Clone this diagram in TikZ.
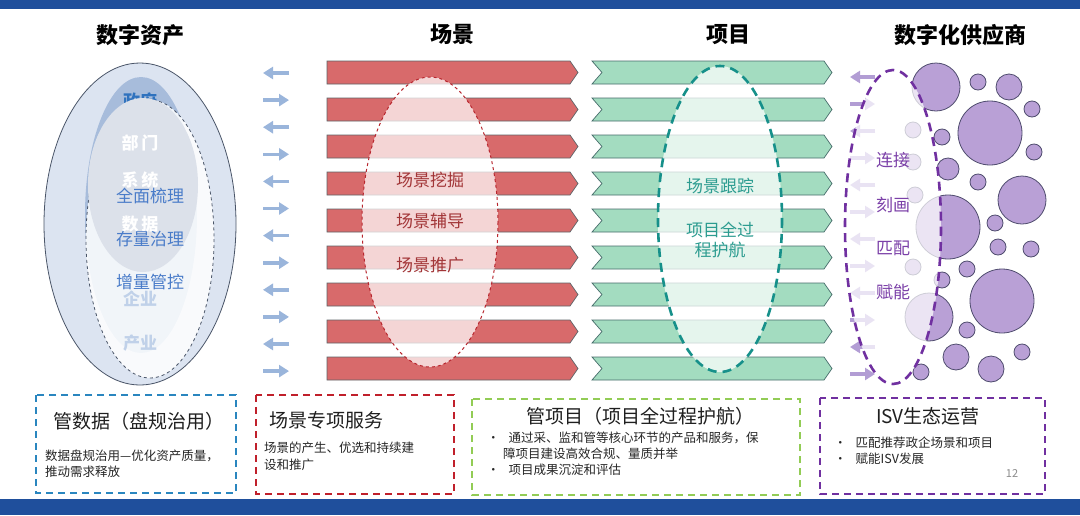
\documentclass[tikz,border=0pt]{standalone}
\usepackage{fontspec}
\setmainfont{Noto Sans CJK SC}
\usetikzlibrary{arrows.meta}

\definecolor{bandblue}{HTML}{1F4F9C}
\definecolor{ringfill}{HTML}{DCE4F1}
\definecolor{ringdark}{HTML}{A7BCDB}
\definecolor{ringgrey}{HTML}{DCE1EA}
\definecolor{ringline}{HTML}{4A5568}
\definecolor{govblue}{HTML}{2F72BE}
\definecolor{stepblue}{HTML}{4A7CC9}
\definecolor{paleblue}{HTML}{C0D1E9}
\definecolor{arrowblue}{HTML}{9AB5DB}
\definecolor{barred}{HTML}{D86A6B}
\definecolor{bargreen}{HTML}{A3DCC0}
\definecolor{bargrey}{HTML}{5E6468}
\definecolor{greenline}{HTML}{476D6B}
\definecolor{sceneline}{HTML}{B8262E}
\definecolor{scenetext}{HTML}{A23537}
\definecolor{projline}{HTML}{16908A}
\definecolor{projtext}{HTML}{2C9C90}
\definecolor{isvline}{HTML}{7030A0}
\definecolor{isvtext}{HTML}{7B40A8}
\definecolor{bubble}{HTML}{B9A0D6}
\definecolor{bubbleline}{HTML}{4F4C6E}
\definecolor{arrowlilac}{HTML}{B29DD4}
\definecolor{boxblue}{HTML}{2A86BF}
\definecolor{boxred}{HTML}{C0202B}
\definecolor{boxgreen}{HTML}{92CC55}
\definecolor{boxpurple}{HTML}{7030A0}

\tikzset{
  headtext/.style={font=\fontsize{22}{24}\selectfont\bfseries, text=black},
  ringtext/.style={font=\fontsize{17}{19}\selectfont\bfseries},
  steptext/.style={font=\fontsize{17}{19}\selectfont, text=stepblue},
  redbar/.style={fill=barred, draw=bargrey, line width=0.7pt},
  greenbar/.style={fill=bargreen, draw=greenline, line width=0.7pt},
  leftarrow/.style={draw=arrowblue, line width=3.6pt, -{Triangle[length=10pt,width=12pt]}},
  lilacarrow/.style={draw=arrowlilac, line width=3.6pt, -{Triangle[length=10pt,width=12pt]}},
  bubbledot/.style={fill=bubble, draw=bubbleline, line width=0.8pt},
  veil/.style={fill=white, fill opacity=0.72},
  ovaltext/.style={font=\fontsize{17}{19}\selectfont},
  boxtitle/.style={font=\fontsize{19}{21}\selectfont, text=black!88},
  boxtext/.style={font=\fontsize{12.5}{16}\selectfont, text=black!85, anchor=west, inner sep=0pt},
  dashbox/.style={line width=2.2pt, dash pattern=on 7pt off 5pt},
}

\begin{document}
\begin{tikzpicture}[x=1pt, y=-1pt]
  \def\barh{23}     % bar height
  \def\barp{37}     % bar pitch
  \def\bartop{61}   % first bar
  \useasboundingbox (0,0) rectangle (1080,515);
  \fill[white] (0,0) rectangle (1080,515);
  \fill[bandblue] (0,0) rectangle (1080,9);      % top band
  \fill[bandblue] (0,499) rectangle (1080,515);  % bottom band
  %
  % column heads
  \node[headtext] (hAsset) at (140,35) {数字资产};
  \node[headtext] (hScene) at (452,34) {场景};
  \node[headtext] (hProj)  at (728,35) {项目};
  \node[headtext] (hIsv)   at (960,35) {数字化供应商};
  %
  % data assets rings
  \draw[fill=ringfill, draw=ringline, line width=0.8pt] (140,224) ellipse [x radius=96, y radius=161];
  \fill[ringdark] (141,215) ellipse [x radius=56, y radius=138];
  \node[ringtext, text=govblue] (rGov) at (140,101) {政府};
  \draw[fill=white, fill opacity=0.85, draw=ringline, dashed, line width=0.8pt] (150,239) ellipse [x radius=64, y radius=139];
  \fill[ringgrey] (143,185) ellipse [x radius=55, y radius=87];
  \node[ringtext, text=white] (rDept) at (140,143) {部\,门};
  \node[ringtext, text=white] (rSys)  at (140,180) {系\,统};
  \node[ringtext, text=white] (rData) at (140,224) {数\,据};
  \node[ringtext, text=paleblue] (rEnt) at (140,299) {企业};
  \node[ringtext, text=paleblue] (rInd) at (140,343) {产业};
  \node[steptext] (sComb)  at (150,196) {全面梳理};
  \node[steptext] (sStock) at (150,239) {存量治理};
  \node[steptext] (sNew)   at (150,282) {增量管控};
  %
  % exchange arrows
  \foreach \i in {0,2,...,10}
    \draw[leftarrow] (289,73+27.1*\i) -- (263,73+27.1*\i);
  \foreach \i in {1,3,...,11}
    \draw[leftarrow] (263,73+27.1*\i) -- (289,73+27.1*\i);
  %
  % scene bars and project chevrons
  \foreach \i in {0,...,8} {
    \pgfmathsetmacro\yt{\bartop+\barp*\i}
    \draw[redbar] (327,\yt) -- (570,\yt) -- (578,\yt+\barh/2) -- (570,\yt+\barh) -- (327,\yt+\barh) -- cycle;
    \draw[greenbar] (592,\yt) -- (824,\yt) -- (832,\yt+\barh/2) -- (824,\yt+\barh) -- (592,\yt+\barh) -- (602,\yt+\barh/2) -- cycle;
  }
  %
  % supplier bubbles
  \foreach \cx/\cy/\r in {936/87/24, 978/82/8, 1009/87/13, 1032/109/8, 990/133/32,
      913/130/8, 942/137/8, 1034/152/8, 948/169/11, 913/162/8, 978/182/8,
      1022/200/24, 915/195/8, 948/227/32, 995/223/8, 998/247/8, 1031/249/8,
      913/267/8, 967/269/8, 942/280/8, 1002/301/32, 929/317/24, 967/330/8,
      956/357/13, 1022/352/8, 991/369/13, 921/372/8}
    \draw[bubbledot] (\cx,\cy) circle [radius=\r];
  \foreach \i in {0,2,...,10}
    \draw[lilacarrow] (875,77+27*\i) -- (850,77+27*\i);
  \foreach \i in {1,3,...,11}
    \draw[lilacarrow] (850,77+27*\i) -- (875,77+27*\i);
  %
  % dashed ovals
  \draw[veil, draw=sceneline, dashed, line width=1pt] (430,222) ellipse [x radius=68, y radius=145];
  \draw[veil, draw=projline, dash pattern=on 9pt off 6pt, line width=2.6pt] (720,219) ellipse [x radius=62, y radius=153];
  \draw[veil, draw=isvline, dash pattern=on 9pt off 6pt, line width=2.6pt] (893,227) ellipse [x radius=48, y radius=157];
  %
  \node[ovaltext, text=scenetext] (oDig)  at (430,180) {场景挖掘};
  \node[ovaltext, text=scenetext] (oGuid) at (430,221) {场景辅导};
  \node[ovaltext, text=scenetext] (oProm) at (430,265) {场景推广};
  \node[ovaltext, text=projtext] (oTrack) at (720,186) {场景跟踪};
  \node[ovaltext, text=projtext, align=center, font=\fontsize{17}{20}\selectfont] (oGuard) at (720,240) {项目全过\\程护航};
  \node[ovaltext, text=isvtext] (oLink)  at (893,160) {连接};
  \node[ovaltext, text=isvtext] (oDraw)  at (893,205) {刻画};
  \node[ovaltext, text=isvtext] (oMatch) at (893,248) {匹配};
  \node[ovaltext, text=isvtext] (oEmp)   at (893,292) {赋能};
  %
  % bottom boxes
  \draw[dashbox, draw=boxblue] (36,395) rectangle (236,493);
  \node[boxtitle] (bData) at (139,421) {管数据（盘规治用）};
  \node[boxtext] (bDataA) at (45,456) {数据盘规治用—优化资产质量，};
  \node[boxtext] (bDataB) at (45,472) {推动需求释放};
  %
  \draw[dashbox, draw=boxred] (256,395) rectangle (454,494);
  \node[boxtitle, anchor=west] (bScene) at (266,420) {场景专项服务};
  \node[boxtext] (bSceneA) at (264,448) {场景的产生、优选和持续建};
  \node[boxtext] (bSceneB) at (264,465) {设和推广};
  %
  \draw[dashbox, draw=boxgreen] (472,399) rectangle (800,495);
  \node[boxtitle] (bProj) at (640,416) {管项目（项目全过程护航）};
  \node[boxtext] (bProjA) at (487,438) {•\hspace{9pt}通过采、监和管等核心环节的产品和服务，保};
  \node[boxtext] (bProjB) at (503,454) {障项目建设高效合规、量质并举};
  \node[boxtext] (bProjC) at (487,470) {•\hspace{9pt}项目成果沉淀和评估};
  %
  \draw[dashbox, draw=boxpurple] (820,398) rectangle (1045,494);
  \node[boxtitle] (bIsv) at (928,416) {ISV生态运营};
  \node[boxtext] (bIsvA) at (834,443) {•\hspace{9pt}匹配推荐政企场景和项目};
  \node[boxtext] (bIsvB) at (834,459) {•\hspace{9pt}赋能ISV发展};
  \node[font=\fontsize{11}{12}\selectfont, text=black!45] (pageNo) at (1012,473) {12};
\end{tikzpicture}
\end{document}
